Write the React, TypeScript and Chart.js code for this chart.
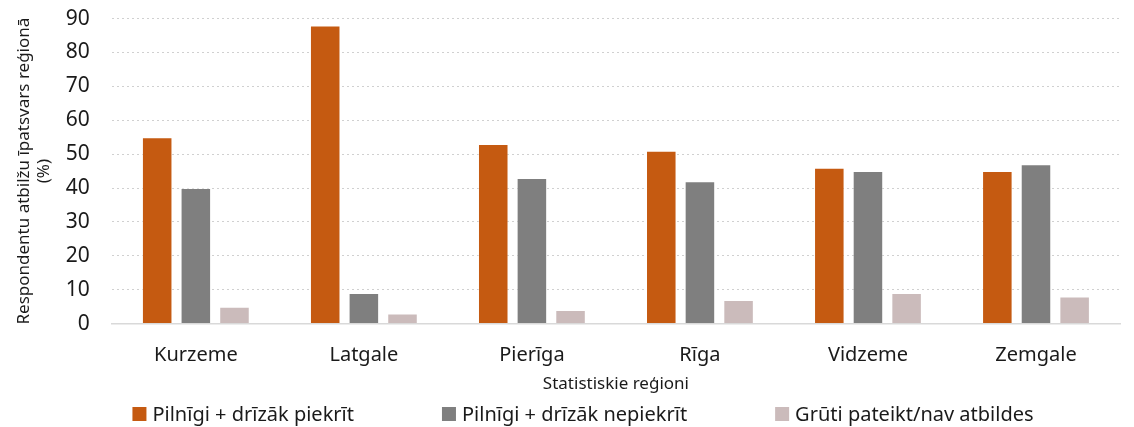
import React, { useEffect, useRef } from 'react';
import { Chart, registerables } from 'chart.js';

Chart.register(...registerables);

const categories = ['Kurzeme', 'Latgale', 'Pierīga', 'Rīga', 'Vidzeme', 'Zemgale'];
const agreeValues = [55, 88, 53, 51, 46, 45];
const disagreeValues = [40, 9, 43, 42, 45, 47];
const unsureValues = [5, 3, 4, 7, 9, 8];
const seriesLabels = ['Pilnīgi + drīzāk piekrīt', 'Pilnīgi + drīzāk nepiekrīt', 'Grūti pateikt/nav atbildes'];
const seriesColors = ['#C55A11', '#7F7F7F', '#CBBBBB'];
const yTitle = ['Respondentu atbilžu īpatsvars reģionā', '(%)'];
const xTitle = 'Statistiskie reģioni';
const yMin = 0;
const yMax = 90;
const yStep = 10;

const FONT = '"Noto Sans", "Open Sans", sans-serif';

const customLegend = {
  id: 'customLegend',
  afterDraw(chart: any) {
    const ctx = chart.ctx;
    const fontSize = 20;
    const box = 14;
    const boxGap = 6;
    const itemGap = 88;
    ctx.save();
    ctx.font = `${fontSize}px ${FONT}`;
    const widths = seriesLabels.map((t) => box + boxGap + ctx.measureText(t).width);
    const total = widths.reduce((a, b) => a + b, 0) + itemGap * (widths.length - 1);
    let x = (chart.width - total) / 2 + 16;
    const y = chart.height - 13;
    ctx.textBaseline = 'middle';
    ctx.textAlign = 'left';
    seriesLabels.forEach((t, i) => {
      ctx.fillStyle = seriesColors[i];
      ctx.fillRect(x, y - box / 2, box, box);
      ctx.fillStyle = '#1a1a1a';
      ctx.fillText(t, x + box + boxGap, y + 1);
      x += widths[i] + itemGap;
    });
    ctx.restore();
  },
};

export default function App() {
  const ref = useRef<HTMLCanvasElement>(null);
  useEffect(() => {
    document.body.style.margin = '0';
    const values = [agreeValues, disagreeValues, unsureValues];
    const chart = new Chart(ref.current!, {
      type: 'bar',
      data: {
        labels: categories,
        datasets: values.map((v, i) => ({
          label: seriesLabels[i],
          data: v,
          backgroundColor: seriesColors[i],
          borderColor: 'rgba(255,255,255,0.35)',
          borderWidth: 1,
          categoryPercentage: 0.69,
          barPercentage: 0.79,
        })),
      },
      options: {
        animation: false,
        responsive: false,
        maintainAspectRatio: false,
        layout: { padding: { left: 14, right: 14, top: 1, bottom: 33 } },
        plugins: {
          legend: { display: false },
          tooltip: { enabled: false },
        },
        scales: {
          x: {
            grid: { display: false, drawTicks: true, tickLength: 18, tickColor: 'transparent' },
            border: { display: true, color: '#D9D9D9', width: 1.5 },
            ticks: { color: '#1a1a1a', font: { family: FONT, size: 20 }, padding: 2 },
            title: {
              display: true,
              text: xTitle,
              color: '#1a1a1a',
              font: { family: FONT, size: 17 },
              padding: { top: 4, bottom: 0 },
            },
          },
          y: {
            min: yMin,
            max: yMax,
            ticks: { stepSize: yStep, color: '#1a1a1a', font: { family: FONT, size: 21 }, padding: 6 },
            grid: { color: '#D0D0D0', lineWidth: 1, drawTicks: true, tickLength: 16, tickColor: 'transparent' },
            border: { display: false, dash: [2, 3] },
            title: {
              display: true,
              text: yTitle,
              color: '#1a1a1a',
              font: { family: FONT, size: 17, lineHeight: 1.2 },
              padding: { top: 0, bottom: 5 },
            },
          },
        },
      },
      plugins: [customLegend],
    });
    return () => chart.destroy();
  }, []);
  return (
    <div style={{ width: 1134, height: 427 }}>
      <canvas ref={ref} width={1134} height={427} style={{ width: 1134, height: 427, display: 'block' }} />
    </div>
  );
}
